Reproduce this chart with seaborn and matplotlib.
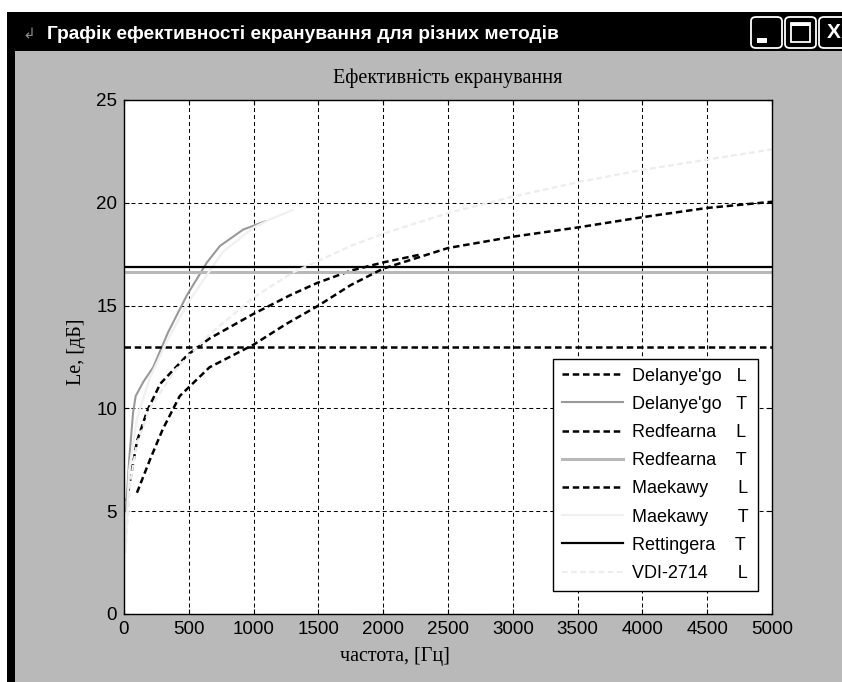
import matplotlib
matplotlib.use("Agg")
import matplotlib.pyplot as plt
from matplotlib.patches import Rectangle, FancyBboxPatch
from matplotlib.lines import Line2D
import seaborn as sns
import pandas as pd

# ---------------- data ----------------
x_ticks = [0, 500, 1000, 1500, 2000, 2500, 3000, 3500, 4000, 4500, 5000]
y_ticks = [0, 5, 10, 15, 20, 25]

delanye_L_f = [20, 100, 180, 280, 490, 660, 1000, 1280, 1490, 1750, 2000, 2300]
delanye_L_v = [5.5, 8.4, 9.9, 11.2, 12.6, 13.4, 14.6, 15.5, 16.1, 16.7, 17.1, 17.5]

delanye_T_f = [15, 40, 70, 90, 150, 225, 340, 485, 640, 740, 920, 1090]
delanye_T_v = [5.0, 7.5, 9.8, 10.6, 11.3, 12.0, 13.7, 15.5, 17.1, 17.9, 18.7, 19.1]

redfearna_L_f = [0, 5000]
redfearna_L_v = [13.0, 13.0]

redfearna_T_f = [0, 5000]
redfearna_T_v = [16.65, 16.65]

maekawy_L_f = [100, 200, 300, 430, 660, 1000, 1250, 1500, 1750, 2000, 2500, 3000, 3500, 4000, 4500, 5000]
maekawy_L_v = [5.9, 7.5, 9.0, 10.6, 12.0, 13.1, 14.1, 15.0, 16.0, 16.8, 17.8, 18.35, 18.8, 19.3, 19.75, 20.05]

maekawy_T_f = [10, 40, 100, 200, 350, 500, 760, 1000, 1130, 1300]
maekawy_T_v = [3.0, 7.0, 9.5, 11.5, 13.5, 15.2, 17.6, 18.8, 19.2, 19.65]

rettingera_T_f = [0, 5000]
rettingera_T_v = [16.9, 16.9]

vdi_L_f = [10, 50, 100, 200, 400, 660, 1000, 1300, 1750, 2000, 2500, 3000, 3500, 4000, 4500, 5000]
vdi_L_v = [3.0, 6.5, 8.3, 10.0, 11.9, 13.6, 15.4, 16.6, 17.9, 18.5, 19.5, 20.3, 21.0, 21.6, 22.1, 22.6]

labels = ["Delanye'go   L", "Delanye'go   T", "Redfearna    L", "Redfearna    T",
          "Maekawy      L", "Maekawy      T", "Rettingera    T", "VDI-2714      L"]

window_title = "Графік ефективності екранування для різних методів"
axes_title = "Ефективність екранування"
x_label = "частота, [Гц]"
y_label = "Le, [дБ]"

# ---------------- figure ----------------
W, H = 842, 682
BG = "#b9b9b9"
fig = plt.figure(figsize=(W / 100, H / 100), dpi=100)
fig.patch.set_facecolor(BG)

def fx(px):
    return px / W

def fy(py):
    return 1 - py / H

def rect(x0, y0, x1, y1, **kw):
    fig.add_artist(Rectangle((fx(x0), fy(y1)), fx(x1) - fx(x0), fy(y0) - fy(y1),
                             transform=fig.transFigure, **kw))

def rbox(x0, y0, x1, y1, **kw):
    fig.add_artist(FancyBboxPatch((fx(x0), fy(y1)), fx(x1) - fx(x0), fy(y0) - fy(y1),
                                  boxstyle="round,pad=0,rounding_size=0.006",
                                  transform=fig.transFigure, **kw))

# window frame
rect(0, 0, W, 12, facecolor="white", edgecolor="none")
rect(0, 0, 7, H, facecolor="white", edgecolor="none")
rect(7, 12, W, 51, facecolor="black", edgecolor="none")
rect(7, 12, 15, H, facecolor="black", edgecolor="none")

fig.text(fx(47), fy(34), window_title, color="white", fontsize=13.8, fontweight="bold",
         family=["Liberation Sans", "DejaVu Sans"], va="center", ha="left")
fig.text(fx(22), fy(34), "\u21b2", color="#8a8a8a", fontsize=11, va="center", ha="left",
         family=["DejaVu Sans"])

# title bar buttons
for bx in (751, 785, 819):
    rbox(bx, 17, bx + 31, 48, facecolor="black", edgecolor="white", linewidth=1.3)
rect(757, 38, 767, 43, facecolor="white", edgecolor="none")
rect(791, 23, 810, 42, facecolor="none", edgecolor="white", linewidth=1.3)
rect(791, 23, 810, 26, facecolor="white", edgecolor="none")
fig.text(fx(834), fy(33), "X", color="white", fontsize=15, fontweight="bold",
         family=["Liberation Sans", "DejaVu Sans"], va="center", ha="center")

# ---------------- axes ----------------
ax = fig.add_axes([fx(124), fy(614), fx(772) - fx(124), fy(100) - fy(614)])
ax.set_facecolor("white")

dash_c = (0, (2.6, 1.5))
series = [
    (delanye_L_f, delanye_L_v, "black", dash_c, 1.8),
    (delanye_T_f, delanye_T_v, "#999999", "-", 1.5),
    (redfearna_L_f, redfearna_L_v, "black", dash_c, 1.8),
    (redfearna_T_f, redfearna_T_v, "#b8b8b8", "-", 2.2),
    (maekawy_L_f, maekawy_L_v, "black", dash_c, 1.8),
    (maekawy_T_f, maekawy_T_v, "#f0f0f0", "-", 1.6),
    (rettingera_T_f, rettingera_T_v, "black", "-", 1.6),
    (vdi_L_f, vdi_L_v, "#ededed", dash_c, 1.6),
]

handles = []
for (f, v, c, ls, lw), lab in zip(series, labels):
    df = pd.DataFrame({"f": f, "v": v})
    sns.lineplot(data=df, x="f", y="v", ax=ax, color=c, linestyle=ls, linewidth=lw,
                 sort=False, estimator=None, legend=False)
    handles.append(Line2D([], [], color=c, linestyle=ls, linewidth=lw, label=lab))

ax.set_xlim(0, 5000)
ax.set_ylim(0, 25)
ax.set_xticks(x_ticks)
ax.set_yticks(y_ticks)
ax.set_xticklabels([str(t) for t in x_ticks])
ax.set_yticklabels([str(t) for t in y_ticks])
ax.grid(True, color="black", linestyle=(0, (3.8, 2.9)), linewidth=0.75)
ax.set_axisbelow(True)

for s in ax.spines.values():
    s.set_color("black")
    s.set_linewidth(1.0)

ax.tick_params(direction="in", length=3.6, width=0.8, top=True, right=True,
               labelsize=13.5, pad=5, colors="black")
for lab in ax.get_xticklabels() + ax.get_yticklabels():
    lab.set_family(["Liberation Sans", "DejaVu Sans"])

serif = ["Liberation Serif", "DejaVu Serif"]
ax.set_title(axes_title, family=serif, fontsize=14.5, pad=12)
ax.set_xlabel(x_label, family=serif, fontsize=14.5)
ax.set_ylabel(y_label, family=serif, fontsize=14.5)
ax.xaxis.set_label_coords((395 - 124) / 648, -(647 - 614) / 514)
ax.yaxis.set_label_coords(-(124 - 86) / 648, (614 - 352) / 514)

leg = ax.legend(handles=handles, loc="lower right",
                bbox_to_anchor=((758 - 124) / 648, (614 - 591) / 514),
                borderaxespad=0, frameon=True, fancybox=False, framealpha=1,
                edgecolor="black", facecolor="white", handlelength=3.4,
                handletextpad=0.5, labelspacing=0.62, borderpad=0.5,
                prop={"family": ["Liberation Sans", "DejaVu Sans"], "size": 13})
leg.get_frame().set_linewidth(1.0)

fig.savefig("out.png", dpi=100, facecolor=BG)
